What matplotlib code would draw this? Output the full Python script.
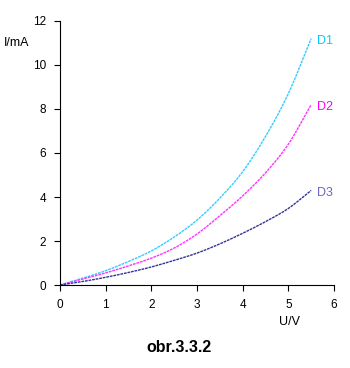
import matplotlib
matplotlib.use("Agg")
import matplotlib.pyplot as plt
import numpy as np

U = [0, 0.5, 1, 1.5, 2, 2.5, 3, 3.5, 4, 4.5, 5, 5.5]
D1 = [0, 0.31, 0.65, 1.07, 1.55, 2.18, 2.95, 3.95, 5.15, 6.75, 8.7, 11.2]
D2 = [0, 0.27, 0.55, 0.87, 1.22, 1.68, 2.32, 3.15, 4.05, 5.1, 6.4, 8.2]
D3 = [0, 0.16, 0.35, 0.57, 0.82, 1.12, 1.45, 1.87, 2.35, 2.88, 3.48, 4.3]
names = ["D1", "D2", "D3"]
line_colors = ["#33CCFF", "#FF33FF", "#333399"]
label_colors = ["#00CCFF", "#FF00FF", "#6666CC"]
xticks = [0, 1, 2, 3, 4, 5, 6]
yticks = [0, 2, 4, 6, 8, 10, 12]

plt.rcParams['font.family'] = ['Liberation Sans', 'DejaVu Sans']

fig = plt.figure(figsize=(3.5, 3.68), dpi=100)
ax = fig.add_axes([0.1714, 0.2255, 0.7829, 0.7175])


def smooth(u, pts, n=20):
    u = np.asarray(u, dtype=float)
    pts = np.asarray(pts, dtype=float)
    xx, yy = [], []
    for i in range(len(u) - 1):
        p0 = pts[i - 1] if i > 0 else 2 * pts[i] - pts[i + 1]
        p1, p2 = pts[i], pts[i + 1]
        p3 = pts[i + 2] if i + 2 < len(u) else 2 * pts[i + 1] - pts[i]
        t = np.linspace(0, 1, n, endpoint=False)
        yv = 0.5 * ((2 * p1) + (-p0 + p2) * t + (2 * p0 - 5 * p1 + 4 * p2 - p3) * t ** 2
                    + (-p0 + 3 * p1 - 3 * p2 + p3) * t ** 3)
        xx.extend(u[i] + t * (u[i + 1] - u[i]))
        yy.extend(yv)
    xx.append(u[-1])
    yy.append(pts[-1])
    return xx, yy


for ys, c, lc, n in zip([D1, D2, D3], line_colors, label_colors, names):
    xx, yy = smooth(U, ys)
    ax.plot(xx, yy, color=c, lw=1.0, ls=(0, (2, 0.6)))
    ax.annotate(n, (U[-1], ys[-1]), xytext=(4, -2), textcoords='offset points',
                color=lc, fontsize=9, va='center', ha='left')

ax.set_xlim(0, 6)
ax.set_ylim(0, 12)
ax.set_xticks(xticks)
ax.set_yticks(yticks)
ax.tick_params(direction='out', length=4, width=0.8, labelsize=8.5, pad=6, colors='black')
for s in ['top', 'right']:
    ax.spines[s].set_visible(False)
for s in ['left', 'bottom']:
    ax.spines[s].set_linewidth(0.8)

fig.text(4 / 350, 1 - 43 / 368, "I/mA", fontsize=9, va='center', ha='left')
fig.text(290 / 350, 1 - 322 / 368, "U/V", fontsize=9, va='center', ha='center')
fig.text(179 / 350, 1 - 347 / 368, "obr.3.3.2", fontsize=11.5, fontweight='bold', va='center', ha='center')

fig.savefig("out.png", dpi=100)
